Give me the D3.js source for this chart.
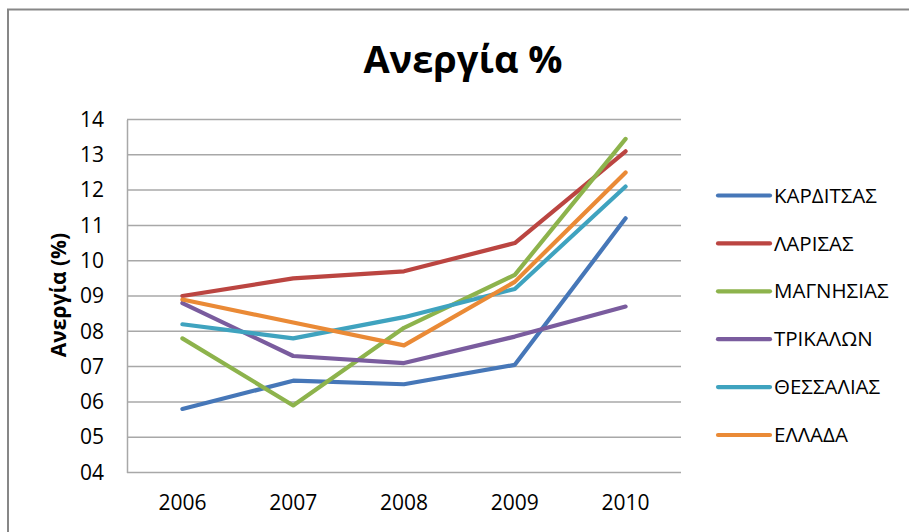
<!DOCTYPE html>
<html>
<head>
<meta charset="utf-8">
<script src="https://cdn.jsdelivr.net/npm/d3@7"></script>
<style>
    body { margin: 0; background: #fff; }
    text { font-family: "Open Sans", "Noto Sans", sans-serif; fill: #000; }
</style>
</head>
<body>
<svg id="chart" width="909" height="532"></svg>
<script>
/**
 * Data.
 */
const years = ['2006', '2007', '2008', '2009', '2010'];
const seriesNames = ['ΚΑΡΔΙΤΣΑΣ', 'ΛΑΡΙΣΑΣ', 'ΜΑΓΝΗΣΙΑΣ', 'ΤΡΙΚΑΛΩΝ', 'ΘΕΣΣΑΛΙΑΣ', 'ΕΛΛΑΔΑ'];
const karditsas = [5.8, 6.6, 6.5, 7.05, 11.2];
const larisas = [9.0, 9.5, 9.7, 10.5, 13.1];
const magnisias = [7.8, 5.9, 8.1, 9.6, 13.45];
const trikalon = [8.8, 7.3, 7.1, 7.85, 8.7];
const thessalias = [8.2, 7.8, 8.4, 9.2, 12.1];
const ellada = [8.9, 8.25, 7.6, 9.4, 12.5];
const yTicks = [4, 5, 6, 7, 8, 9, 10, 11, 12, 13, 14];
const colors = ['#4677B8', '#BB4541', '#8DB34C', '#7A5C9E', '#3FA3BF', '#EA8A36'];

const series = [karditsas, larisas, magnisias, trikalon, thessalias, ellada]
    .map((values, i) => ({ name: seriesNames[i], color: colors[i], values: values }));

/**
 * Layout.
 */
const plot = { left: 127, right: 681, top: 119.5, bottom: 472.5 };

const svg = d3.select('#chart');

// Chart frame (runs off the right and bottom edges)
svg.append('rect')
    .attr('x', 8).attr('y', 9.5)
    .attr('width', 1000).attr('height', 600)
    .attr('fill', 'none')
    .attr('stroke', '#878787')
    .attr('stroke-width', 2);

const x = d3.scaleBand().domain(years).range([plot.left, plot.right]);
const y = d3.scaleLinear().domain([4, 14]).range([plot.bottom, plot.top]);

// Gridlines
svg.append('g').attr('class', 'grid')
    .selectAll('line').data(yTicks).join('line')
    .attr('x1', plot.left).attr('x2', plot.right)
    .attr('y1', d => y(d)).attr('y2', d => y(d))
    .attr('stroke', '#a8a8a8')
    .attr('stroke-width', 1.5);

// Y axis
const yAxis = svg.append('g')
    .attr('transform', 'translate(' + plot.left + ',0)')
    .call(d3.axisLeft(y).tickValues(yTicks).tickFormat(d3.format('02d')).tickSize(0).tickPadding(23));
yAxis.select('.domain').attr('stroke', '#a8a8a8').attr('stroke-width', 1.5);
yAxis.selectAll('text').attr('font-size', 21).attr('font-family', null).attr('fill', '#000');

// X axis (labels only)
const xAxis = svg.append('g')
    .attr('transform', 'translate(0,' + plot.bottom + ')')
    .call(d3.axisBottom(x).tickSize(0).tickPadding(23));
xAxis.select('.domain').remove();
xAxis.selectAll('text').attr('font-size', 21).attr('font-family', null).attr('fill', '#000');

// Title
svg.append('text')
    .attr('x', 463).attr('y', 73)
    .attr('text-anchor', 'middle')
    .attr('font-size', 38)
    .attr('font-weight', 'bold')
    .text('Ανεργία %');

// Y axis title
svg.append('text')
    .attr('transform', 'translate(66,295) rotate(-90)')
    .attr('text-anchor', 'middle')
    .attr('font-size', 21)
    .attr('font-weight', 'bold')
    .text('Ανεργία (%)');

// Lines
const line = d3.line()
    .x((d, i) => x(years[i]) + x.bandwidth() / 2)
    .y(d => y(d));

svg.append('g').attr('class', 'lines')
    .selectAll('path').data(series).join('path')
    .attr('d', d => line(d.values))
    .attr('fill', 'none')
    .attr('stroke', d => d.color)
    .attr('stroke-width', 4.2)
    .attr('stroke-linejoin', 'round')
    .attr('stroke-linecap', 'round');

// Legend
const legend = svg.append('g').attr('class', 'legend')
    .selectAll('g').data(series).join('g')
    .attr('transform', (d, i) => 'translate(718,' + (195.5 + i * 47.9) + ')');

legend.append('line')
    .attr('x1', 0).attr('x2', 52)
    .attr('stroke', d => d.color)
    .attr('stroke-width', 4.2)
    .attr('stroke-linecap', 'round');

legend.append('text')
    .attr('x', 56)
    .attr('dy', '0.35em')
    .attr('font-size', 20.5)
    .text(d => d.name);
</script>
</body>
</html>
